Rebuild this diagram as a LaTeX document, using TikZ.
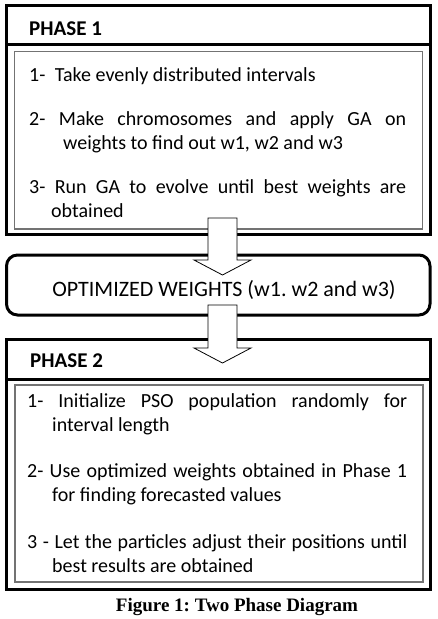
\documentclass[tikz,border=0pt]{standalone}
\usepackage{fontspec}
\setmainfont{Carlito}
\newfontfamily\captionfont{Liberation Serif}
\usetikzlibrary{positioning, calc}
\frenchspacing

% hollow block arrow from a tail point down to a tip point
\newcommand{\fatarrow}[2]{%
  \draw[blockarrow] ($(#1)+(-14.5,0)$) -- ($(#2)+(-14.5,-15)$) -- ($(#2)+(-28.5,-15)$) -- (#2)
    -- ($(#2)+(28.5,-15)$) -- ($(#2)+(14.5,-15)$) -- ($(#1)+(14.5,0)$) -- cycle;}
% one numbered step with a hanging second line
\newcommand{\stepline}[2]{\hangindent=#1\relax\hangafter=1\relax #2\par}

\begin{document}
\begin{tikzpicture}[
    x=1pt, y=-1pt,
    node distance=21pt,
    phasebox/.style={rectangle, draw, line width=3pt, inner sep=0pt, outer sep=0pt, minimum width=423.5pt},
    optbox/.style={phasebox, rounded corners=11pt, minimum height=60pt},
    listbox/.style={rectangle, draw=black!55, line width=1.5pt, inner sep=0pt, outer sep=0pt, minimum width=408pt},
    divider/.style={line width=3pt},
    heading/.style={anchor=base west, inner sep=0pt, font=\fontsize{21}{25}\selectfont\bfseries},
    steps/.style={anchor=base west, inner sep=0pt, align=justify, font=\fontsize{20}{24}\selectfont},
    blockarrow/.style={draw, fill=white, line width=0.8pt, line join=miter}
]
    \useasboundingbox (0,0) rectangle (437,619);

    % boxes
    \node[phasebox, minimum height=229pt] (p1) at (218.25,119.5) {};
    \node[optbox, below=of p1] (opt) {};
    \node[phasebox, minimum height=250pt, below=24pt of opt] (p2) {};

    \draw[divider] ([yshift=-39pt]p1.north west) -- ([yshift=-39pt]p1.north east);
    \draw[divider] ([yshift=-40.5pt]p2.north west) -- ([yshift=-40.5pt]p2.north east);

    \node[listbox, minimum height=177.5pt, anchor=south] (inner1) at ([yshift=5pt]p1.south) {};
    \node[listbox, minimum height=197pt, anchor=south] (inner2) at ([xshift=0.75pt,yshift=7pt]p2.south) {};

    % arrows between the boxes
    \coordinate (tail1) at ([xshift=4.25pt,yshift=16pt]p1.south);
    \coordinate (tip1) at ([xshift=4.25pt,yshift=-20pt]opt.north);
    \coordinate (tail2) at ([xshift=4.25pt,yshift=10pt]opt.south);
    \coordinate (tip2) at ([xshift=4.25pt,yshift=-24pt]p2.north);
    \fatarrow{tail1}{tip1}
    \fatarrow{tail2}{tip2}

    % texts
    \node[heading] (head1) at (29,35) {PHASE 1};
    \node[heading] (head2) at (30,367) {PHASE 2};

    \node[steps, text width=377pt] (list1) at (29,81) {\hyphenpenalty=10000\relax\setlength{\parskip}{20pt}%
        \stepline{0pt}{1-\hspace{5pt} Take evenly distributed intervals}
        \stepline{34pt}{2- Make chromosomes and apply GA on\linebreak weights to find out w1, w2 and w3}
        \stepline{22pt}{3- Run GA to evolve until best weights are\linebreak obtained}};

    \node[anchor=base, inner sep=0pt, font=\fontsize{22}{26}\selectfont] (optlabel) at (224,296) {OPTIMIZED WEIGHTS (w1. w2 and w3)};

    \node[steps, text width=380pt] (list2) at (27,407) {\hyphenpenalty=10000\relax\setlength{\parskip}{22.5pt}%
        \stepline{25pt}{1- Initialize PSO population randomly for\linebreak interval length}
        \stepline{25pt}{2- Use optimized weights obtained in Phase 1\linebreak for finding forecasted values}
        \stepline{25pt}{3 - Let the particles adjust their positions until\linebreak best results are obtained}};

    \node[anchor=base, inner sep=0pt, font=\captionfont\bfseries\fontsize{19}{22}\selectfont] (caption) at (237,611) {Figure 1: Two Phase Diagram};
\end{tikzpicture}
\end{document}
